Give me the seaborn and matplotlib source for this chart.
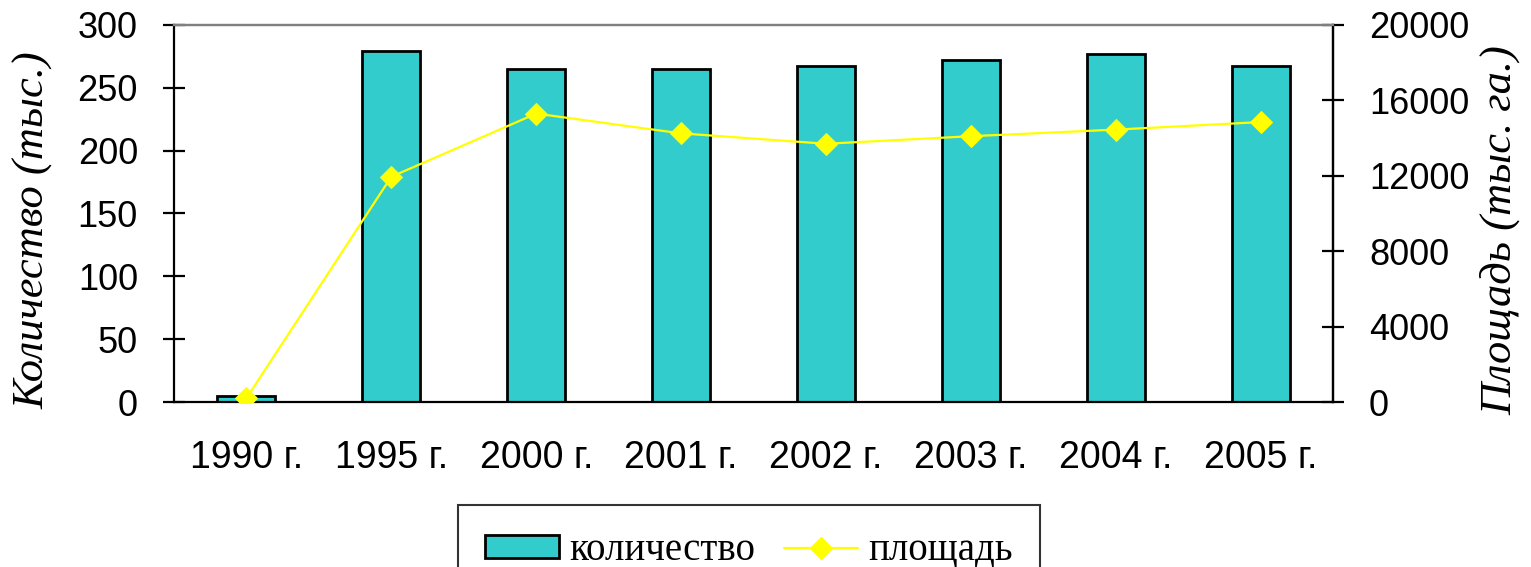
import numpy as np
import pandas as pd
import matplotlib
matplotlib.use("Agg")
import matplotlib.pyplot as plt
import seaborn as sns
from matplotlib.patches import Patch
from matplotlib.lines import Line2D

years = ["1990 г.", "1995 г.", "2000 г.", "2001 г.", "2002 г.", "2003 г.", "2004 г.", "2005 г."]
count = [5, 279, 265, 265, 267, 272, 277, 267]
area = [200, 11950, 15300, 14250, 13700, 14100, 14450, 14850]

df = pd.DataFrame({"year": years, "count": count, "area": area})

sns.set_style("white")
plt.rcParams['font.family'] = ['Liberation Sans', 'DejaVu Sans']
for k in ("text.color", "axes.labelcolor", "xtick.color", "ytick.color"):
    plt.rcParams[k] = "black"

fig = plt.figure(figsize=(15.31, 5.67), dpi=100)
ax = fig.add_axes([174/1531, 1-402/567, (1333-174)/1531, 377/567])

sns.barplot(data=df, x="year", y="count", ax=ax, color="#33CCCC", width=0.4,
            edgecolor="black", linewidth=2, saturation=1)

ax2 = ax.twinx()
sns.lineplot(data=df, x="year", y="area", ax=ax2, sort=False, color="#FFFF00",
             linewidth=1.6, marker="D", markersize=11, markeredgecolor="#FFFF00")

ax.set_xlim(-0.5, 7.5)
ax.set_ylim(0, 300)
ax2.set_ylim(0, 20000)
ax.set_yticks(range(0, 301, 50))
ax2.set_yticks(range(0, 20001, 4000))

ax.set_xticks(np.arange(-0.5, 8, 1))
ax.set_xticklabels([])
ax.set_xticks(range(len(years)), minor=True)
ax.set_xticklabels(years, minor=True)
ax.tick_params(axis="x", which="major", direction="inout", length=16, width=1.6, color="black")
ax.tick_params(axis="x", which="minor", length=0, labelsize=27, pad=27)
ax.tick_params(axis="y", direction="inout", length=16, width=1.6, color="black", labelsize=26, pad=18)
ax2.tick_params(axis="y", direction="inout", length=16, width=1.6, color="black", labelsize=26, pad=18)

for a in (ax, ax2):
    for s in a.spines.values():
        s.set_linewidth(1.6)
        s.set_color("black")
    a.spines["top"].set_color("#808080")
ax2.spines["left"].set_visible(False)
ax2.spines["bottom"].set_visible(False)

ax.set_xlabel("")
ax.set_ylabel("Количество (тыс.)", family="Liberation Serif", style="italic", fontsize=32)
ax2.set_ylabel("Площадь (тыс. га.)", family="Liberation Serif", style="italic", fontsize=32,
               rotation=90)
ax.yaxis.set_label_coords(-0.104, 0.455)
ax2.yaxis.set_label_coords(1.127, 0.455)

handles = [Patch(facecolor="#33CCCC", edgecolor="black", linewidth=2),
           Line2D([0], [0], color="#FFFF00", linewidth=1.6, marker="D", markersize=11)]
leg = fig.legend(handles, ["количество", "площадь"], loc="upper left",
                 bbox_to_anchor=(458/1531, 1-505/567), borderaxespad=0, ncol=2, frameon=True,
                 fancybox=False, prop={"family": "Liberation Serif", "size": 28},
                 handlelength=1.9, handleheight=0.5, columnspacing=0.75, handletextpad=0.26,
                 borderpad=0.7)
leg.get_frame().set_edgecolor("black")
leg.get_frame().set_linewidth(1.5)

fig.savefig("out.png", dpi=100)
